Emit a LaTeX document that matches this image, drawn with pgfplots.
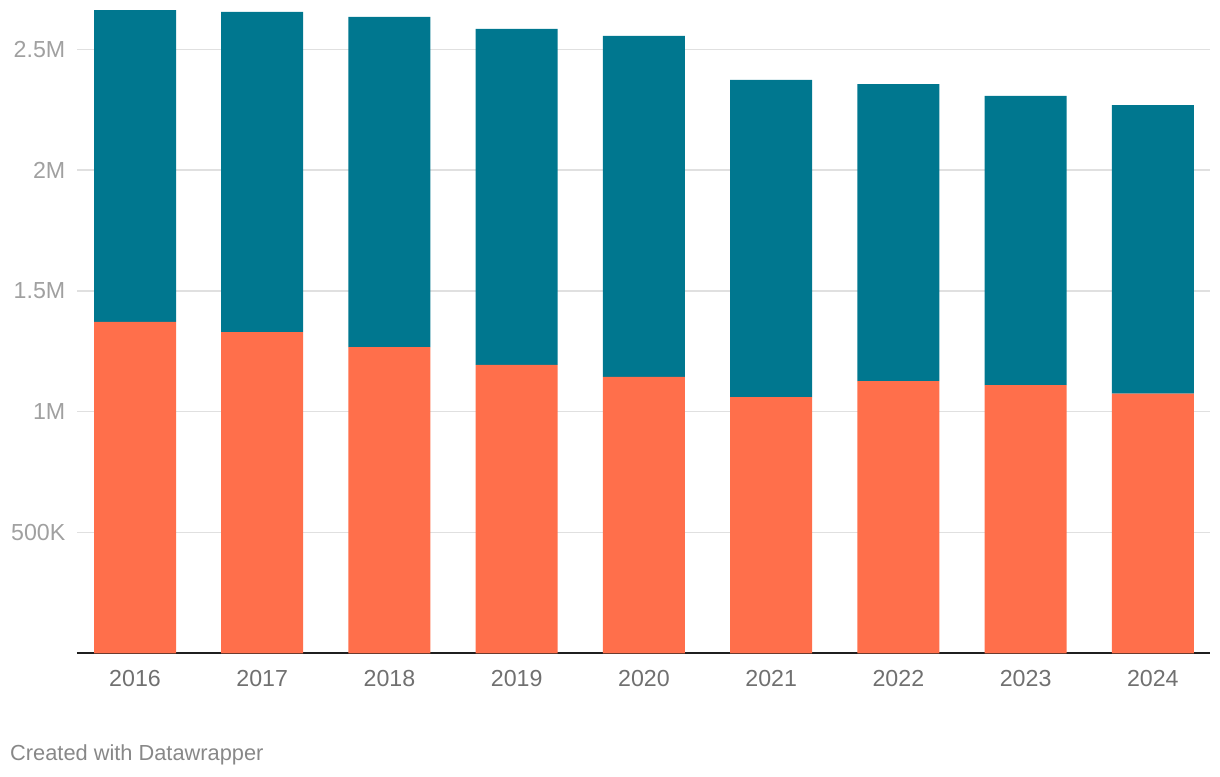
\documentclass[border=0pt]{standalone}
\usepackage{pgfplots}
\pgfplotsset{compat=1.18}
\usepackage{fontspec}
\setmainfont{Liberation Sans}
\definecolor{teal1}{RGB}{0,119,143}
\definecolor{orange1}{RGB}{255,111,75}
\definecolor{gridc}{RGB}{224,224,224}
\definecolor{ylab}{RGB}{160,160,160}
\definecolor{xlab}{RGB}{112,112,112}
\definecolor{foot}{RGB}{136,136,136}
\begin{document}
\begin{tikzpicture}
\useasboundingbox (0,0) rectangle (1220pt,776pt);
\begin{axis}[
  at={(77pt,122.5pt)}, anchor=south west,
  scale only axis, width=1133pt, height=652.6pt,
  xmin=-0.456, xmax=8.449, ymin=0, ymax=2700000,
  ybar stacked, bar width=82pt,
  axis line style={draw=none},
  major tick length=0pt,
  xtick={0,1,2,3,4,5,6,7,8},
  xticklabels={2016,2017,2018,2019,2020,2021,2022,2023,2024},
  ytick={500000,1000000,1500000,2000000,2500000},
  yticklabels={500K,1M,1.5M,2M,2.5M},
  scaled y ticks=false,
  ymajorgrids, grid style={gridc, line width=1.3pt},
  tick label style={font=\fontsize{23.2}{27}\selectfont, inner sep=0pt},
  yticklabel style={text=ylab, anchor=east, xshift=-11.5pt},
  xticklabel style={text=xlab, anchor=north, yshift=-16.5pt},
  clip=false,
]
\addplot[fill=orange1, draw=none] coordinates {
(0,1372000) (1,1330000) (2,1268000) (3,1194000) (4,1144000)
(5,1061000) (6,1127000) (7,1110000) (8,1075000)};
\addplot[fill=teal1, draw=none] coordinates {
(0,1290000) (1,1325000) (2,1366000) (3,1390000) (4,1411000)
(5,1312000) (6,1229000) (7,1197000) (8,1194000)};
\draw[black!88, line width=2pt] (axis cs:-0.456,0) -- (axis cs:8.449,0);
\end{axis}
\node[anchor=base west, inner sep=0pt, text=foot, font=\fontsize{21.8}{26}\selectfont] at (10pt,16pt) {Created with Datawrapper};
\end{tikzpicture}
\end{document}
